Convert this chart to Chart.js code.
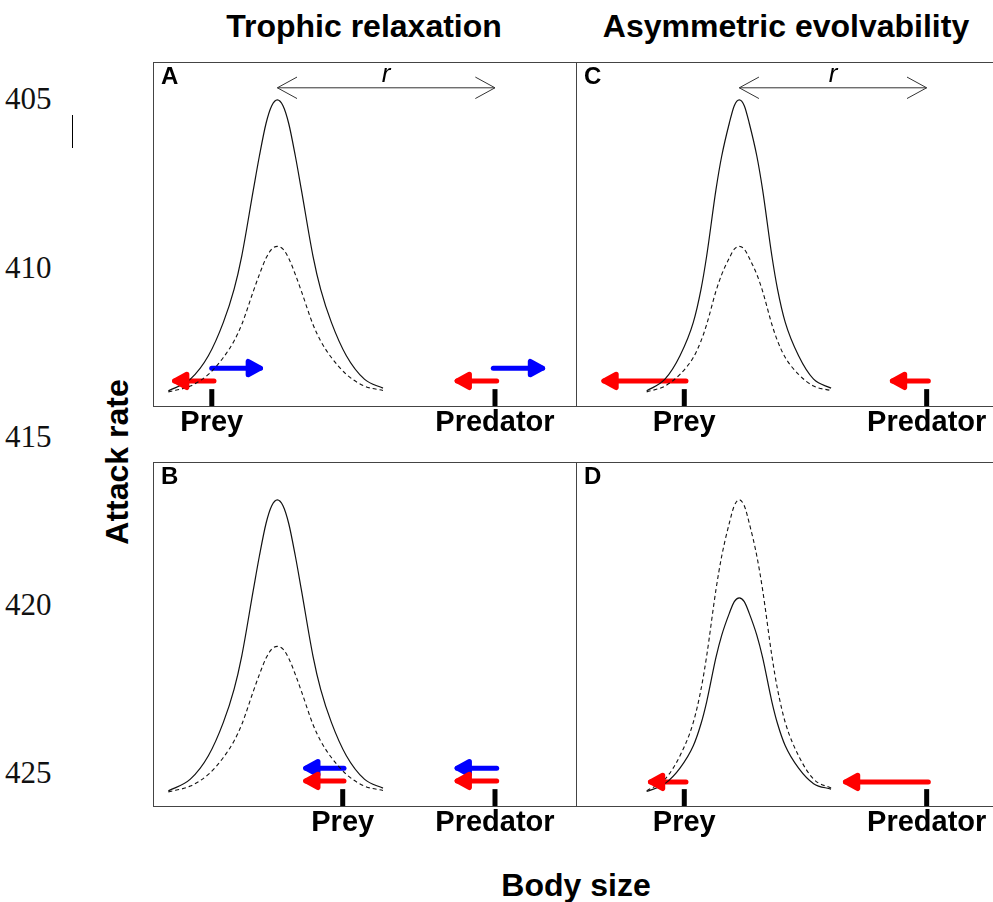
<!DOCTYPE html>
<html>
<head>
<meta charset="utf-8">
<script src="https://cdn.jsdelivr.net/npm/chart.js@4"></script>
<style>
  html, body { margin: 0; padding: 0; background: #fff; }
  body { width: 993px; height: 902px; position: relative; overflow: hidden; font-family: 'Liberation Sans', Arial, sans-serif; }
  .title { position: absolute; font-weight: bold; font-size: 32px; line-height: 32px; text-align: center; color: #000; white-space: nowrap; }
  .lineno { position: absolute; left: 5px; font-family: 'Liberation Serif', 'Times New Roman', serif; font-size: 31px; line-height: 31px; color: #111; }
  .panel { position: absolute; width: 425px; height: 385px; }
</style>
</head>
<body>
<div class="lineno" style="top:83px">405</div>
<div class="lineno" style="top:252px">410</div>
<div class="lineno" style="top:421px">415</div>
<div class="lineno" style="top:589px">420</div>
<div class="lineno" style="top:757px">425</div>
<div style="position:absolute;left:72px;top:115px;width:1px;height:33px;background:#000"></div>

<div class="title" style="left:164px;top:10px;width:400px">Trophic relaxation</div>
<div class="title" style="left:586px;top:10px;width:400px">Asymmetric evolvability</div>
<div class="title" style="left:376px;top:869px;width:400px">Body size</div>
<div class="title" style="left:-33px;top:446px;width:300px;transform:rotate(-90deg)">Attack rate</div>

<div class="panel" style="left:152px;top:61px"><canvas id="panel-A" width="425" height="385"></canvas></div>
<div class="panel" style="left:152px;top:461px"><canvas id="panel-B" width="425" height="385"></canvas></div>
<div class="panel" style="left:575px;top:61px"><canvas id="panel-C" width="425" height="385"></canvas></div>
<div class="panel" style="left:575px;top:461px"><canvas id="panel-D" width="425" height="385"></canvas></div>

<script>
// panels in order A, B, C, D (x = body size 0-100, y = attack rate 0-100)
const panelIds = ['A', 'B', 'C', 'D'];
const tickLabels = ['Prey', 'Predator'];
const preyX = [13.9, 44.85, 25.6, 25.6];
const predatorX = [80.85, 80.85, 82.9, 82.9];
const tickTop = 4.9;

// attack rate curves
const sizeLeft = [3.63, 8.83, 13.09, 16.63, 19.16, 20.98, 23.73, 25.14, 26.73, 28.07, 29.4, 30.73, 32.07, 33.66, 35.07, 37.82, 39.64, 42.17, 45.71, 49.97, 54.37];
const sizeRight = [16.71, 21.03, 24.58, 27.73, 29.55, 30.89, 33.09, 34.44, 36.24, 37.42, 38.6, 39.78, 40.96, 42.76, 44.11, 46.31, 47.65, 49.47, 52.62, 56.17, 60.3];
const fullCurve = [4.4, 7.8, 14.6, 24.3, 33.9, 43.6, 62.9, 72.6, 82.2, 87.3, 89.0, 87.3, 82.2, 72.6, 62.9, 43.6, 33.9, 24.3, 14.6, 7.8, 5.2];
const halfCurve = [4.1, 5.8, 9.2, 14.1, 18.9, 23.7, 33.4, 38.2, 43.0, 45.6, 46.4, 45.6, 43.0, 38.2, 33.4, 23.7, 18.9, 14.1, 9.2, 5.8, 4.5];
const twoThirdsCurve = [4.2, 6.5, 11.0, 17.5, 23.9, 30.3, 43.2, 49.6, 56.0, 59.4, 60.5, 59.4, 56.0, 49.6, 43.2, 30.3, 23.9, 17.5, 11.0, 6.5, 4.9];

const curveSizes = [sizeLeft, sizeLeft, sizeRight, sizeRight];
const solidCurves = [fullCurve, fullCurve, fullCurve, twoThirdsCurve];
const dashedCurves = [halfCurve, halfCurve, halfCurve, fullCurve];

// selection arrows: [tail, tip, height]
const redArrows = [
  [[14.42, 3.9, 7.3], [81.25, 70.7, 7.3]],
  [[45.15, 34.9, 7.3], [81.25, 70.7, 7.3]],
  [[26.0, 5.4, 7.3], [83.29, 73.6, 7.3]],
  [[26.0, 16.4, 7.0], [83.29, 62.5, 7.0]],
];
const blueArrows = [
  [[13.88, 24.2, 11.0], [80.45, 90.9, 11.0]],
  [[45.15, 34.9, 11.0], [81.25, 70.7, 11.0]],
  [],
  [],
];
// optimal predator-prey size ratio r: [from, to]
const rArrows = [[29.4, 80.85], null, [38.6, 82.9], null];
const rArrowY = 92.5;

const FONT = "'Liberation Sans', Arial, sans-serif";

const toPoints = (xs, ys) => xs.map((x, i) => ({ x, y: ys[i] }));

const arrowHeads = {
  id: 'arrowHeads',
  afterDatasetsDraw(chart) {
    const ctx = chart.ctx;
    chart.data.datasets.forEach((ds, i) => {
      if (!ds.arrow) return;
      const pts = chart.getDatasetMeta(i).data;
      const a = pts[0], b = pts[pts.length - 1];
      ctx.save();
      ctx.strokeStyle = ds.borderColor;
      ctx.lineWidth = ds.borderWidth;
      ctx.lineCap = 'round';
      ctx.lineJoin = 'round';
      const head = (tip, from) => {
        const ang = Math.atan2(tip.y - from.y, tip.x - from.x);
        ctx.beginPath();
        ctx.moveTo(tip.x - ds.headLength * Math.cos(ang - ds.headAngle), tip.y - ds.headLength * Math.sin(ang - ds.headAngle));
        ctx.lineTo(tip.x, tip.y);
        ctx.lineTo(tip.x - ds.headLength * Math.cos(ang + ds.headAngle), tip.y - ds.headLength * Math.sin(ang + ds.headAngle));
        if (ds.headFill) {
          ctx.closePath();
          ctx.fillStyle = ds.borderColor;
          ctx.fill();
        }
        ctx.stroke();
      };
      head(b, a);
      if (ds.arrow === 'both') head(a, b);
      if (ds.arrowLabel) {
        ctx.fillStyle = '#000';
        ctx.font = `italic 26px ${FONT}`;
        ctx.textAlign = 'center';
        ctx.textBaseline = 'alphabetic';
        ctx.fillText(ds.arrowLabel, (a.x + b.x) / 2, a.y - 6);
      }
      ctx.restore();
    });
  },
};

const panelFrame = {
  id: 'panelFrame',
  afterDraw(chart, args, opts) {
    const { ctx, chartArea: area } = chart;
    ctx.save();
    ctx.strokeStyle = '#444';
    ctx.lineWidth = 1;
    ctx.strokeRect(area.left + 0.5, area.top + 0.5, area.right - area.left, area.bottom - area.top);
    ctx.fillStyle = '#000';
    ctx.font = `bold 24px ${FONT}`;
    ctx.textAlign = 'left';
    ctx.textBaseline = 'alphabetic';
    ctx.fillText(opts.letter, area.left + 8, area.top + 22);
    ctx.restore();
  },
};

function arrowDataset(tail, tip, y, color) {
  return {
    data: [{ x: tail, y }, { x: tip + 1.2, y }],
    borderColor: color, borderWidth: 5, borderCapStyle: 'round',
    arrow: 'end', headLength: 14, headAngle: 0.5, headFill: true,
  };
}

panelIds.forEach((id, p) => {
  const datasets = [];
  datasets.push({ data: toPoints(curveSizes[p], solidCurves[p]), borderColor: '#111', borderWidth: 1.2, cubicInterpolationMode: 'monotone' });
  datasets.push({ data: toPoints(curveSizes[p], dashedCurves[p]), borderColor: '#111', borderWidth: 1.1, borderDash: [4, 3], cubicInterpolationMode: 'monotone' });
  [preyX[p], predatorX[p]].forEach((x) => {
    datasets.push({ data: [{ x, y: 0 }, { x, y: tickTop }], borderColor: '#000', borderWidth: 5 });
  });
  blueArrows[p].forEach(([tail, tip, y]) => datasets.push(arrowDataset(tail, tip, y, '#0000ff')));
  redArrows[p].forEach(([tail, tip, y]) => datasets.push(arrowDataset(tail, tip, y, '#ff0000')));
  if (rArrows[p]) {
    datasets.push({
      data: [{ x: rArrows[p][0], y: rArrowY }, { x: rArrows[p][1], y: rArrowY }],
      borderColor: '#333', borderWidth: 1,
      arrow: 'both', headLength: 22, headAngle: 0.5, arrowLabel: 'r',
    });
  }

  new Chart(document.getElementById('panel-' + id), {
    type: 'line',
    data: { datasets },
    options: {
      responsive: false,
      animation: false,
      events: [],
      layout: { padding: { left: 1, top: 1, right: 1, bottom: 0 } },
      elements: { point: { radius: 0 } },
      plugins: { legend: { display: false }, tooltip: { enabled: false }, panelFrame: { letter: id } },
      scales: {
        x: {
          type: 'linear', min: 0, max: 100, position: 'bottom',
          grid: { display: false, drawTicks: false },
          border: { display: false },
          afterBuildTicks: (scale) => { scale.ticks = [{ value: preyX[p] }, { value: predatorX[p] }]; },
          afterFit: (scale) => { scale.height = 40; },
          ticks: {
            autoSkip: false, maxRotation: 0, minRotation: 0, padding: 0, color: '#000',
            font: { family: FONT, size: 29, weight: 'bold' },
            callback: (v, i) => tickLabels[i],
          },
        },
        y: { type: 'linear', min: 0, max: 100, display: false },
      },
    },
    plugins: [arrowHeads, panelFrame],
  });
});
</script>
</body>
</html>
